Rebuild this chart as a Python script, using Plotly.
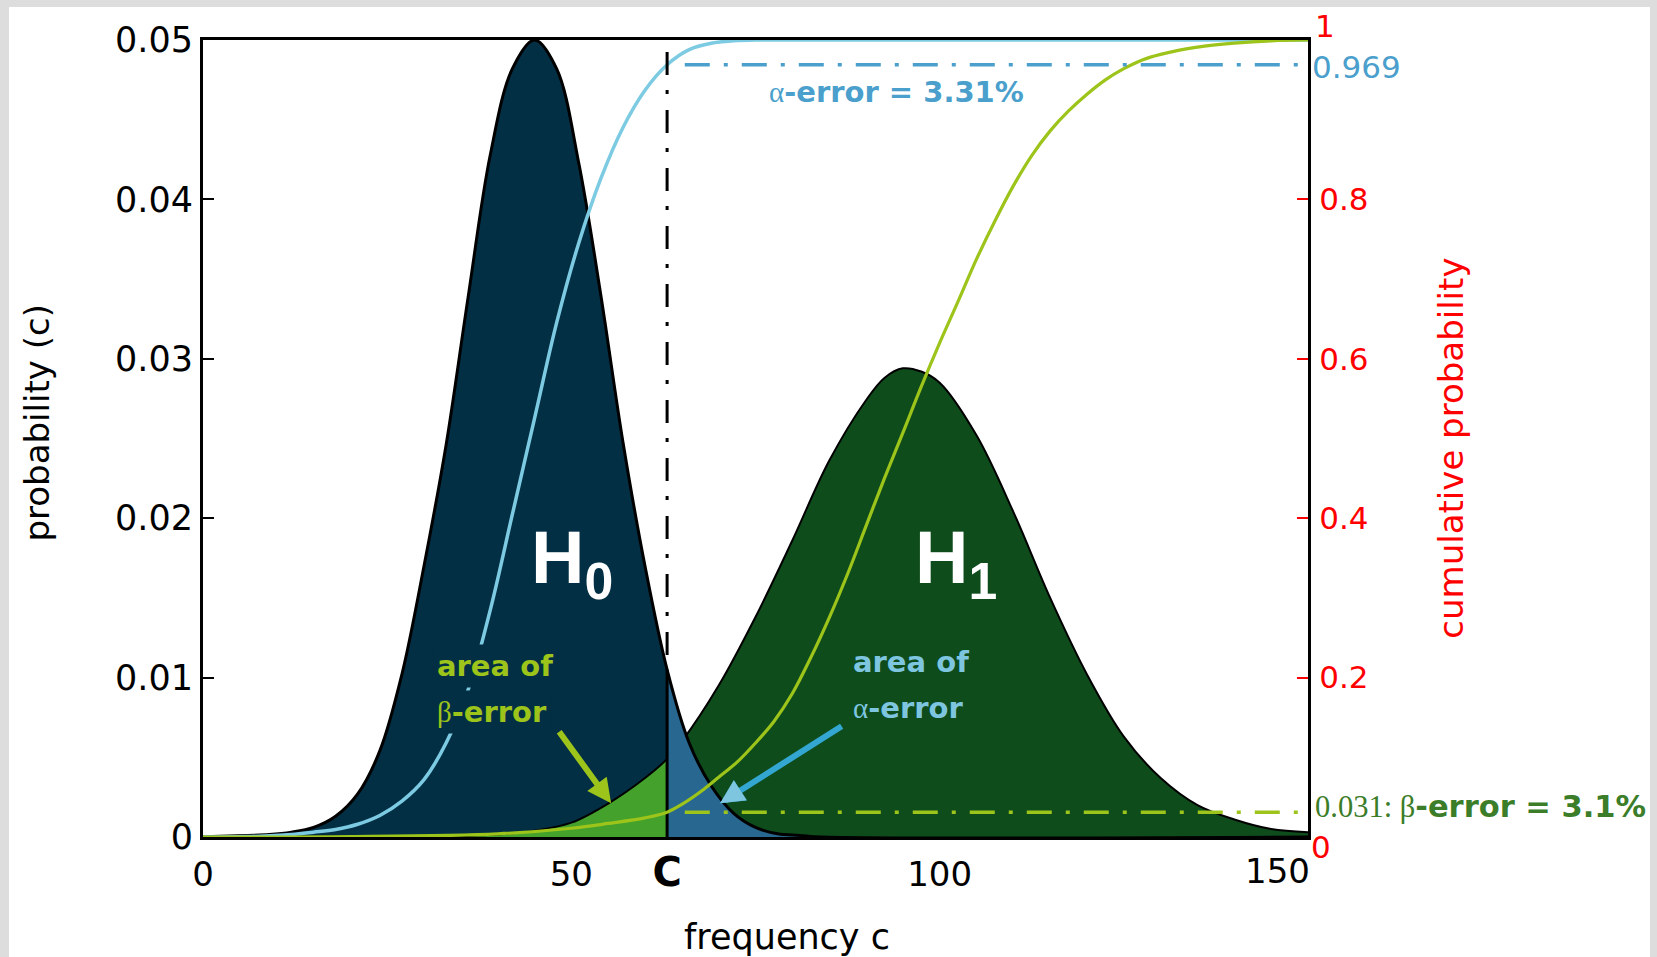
import plotly.graph_objects as go

# ---------------- data ----------------
C = 63.0                      # critical value
ALPHA_LEVEL = 0.969           # cumulative H0 at C
BETA_LEVEL = 0.031            # cumulative H1 at C

H0_X = [0, 6, 9, 12, 15, 18, 21, 24, 27, 30, 33, 36, 39, 42, 45, 48, 51, 54, 57, 60, 63, 66,
        69, 72, 75, 78, 81, 84, 150]
H0_Y = [0.00002, 0.0001, 0.00015, 0.0003, 0.0006, 0.0013, 0.0027, 0.0054, 0.0102, 0.0170,
        0.0246, 0.0339, 0.0428, 0.0482, 0.0500, 0.0482, 0.0423, 0.0340, 0.0248, 0.0170, 0.0105,
        0.0059, 0.0032, 0.0015, 0.0006, 0.0002, 0.0001, 0.0, 0.0]

H1_X = [0, 30, 35, 40, 45, 50, 55, 60, 63, 65, 70, 75, 80, 85, 90, 92.5, 95, 97.5, 100, 105,
        110, 115, 120, 125, 130, 135, 140, 145, 150]
H1_Y = [0.0, 0.00003, 0.00006, 0.00015, 0.0004, 0.0009, 0.0021, 0.0037, 0.0049, 0.0060, 0.0095,
        0.0138, 0.0186, 0.0236, 0.0274, 0.0288, 0.0294, 0.0292, 0.0285, 0.0252, 0.0204, 0.0150,
        0.0102, 0.0063, 0.0037, 0.0020, 0.0011, 0.0005, 0.0003]

CUM0_X = [0, 6, 12, 15, 18, 21, 24, 27, 30, 33, 36, 39, 42, 45, 48, 51, 54, 57, 60, 63, 66, 69,
          72, 75, 81, 150]
CUM0_Y = [0, 0.0005, 0.003, 0.006, 0.0095, 0.016, 0.027, 0.045, 0.072, 0.118, 0.185, 0.285,
          0.405, 0.525, 0.645, 0.745, 0.826, 0.890, 0.937, 0.969, 0.988, 0.996, 0.999, 1.0, 1.0,
          1.0]

CUM1_X = [0, 20, 40, 50, 55, 60, 63, 65, 68, 70, 72.5, 75, 77.5, 80, 82.5, 85, 87.5, 90, 92.5,
          95, 97.5, 100, 102.5, 105, 107.5, 110, 112.5, 115, 117.5, 120, 122.5, 125, 127.5, 130,
          135, 140, 145, 150]
CUM1_Y = [0, 0.0005, 0.0040, 0.0110, 0.0170, 0.0240, 0.031, 0.041, 0.060, 0.075, 0.094, 0.118,
          0.145, 0.180, 0.225, 0.275, 0.330, 0.390, 0.450, 0.507, 0.565, 0.620, 0.672, 0.725,
          0.773, 0.817, 0.855, 0.886, 0.911, 0.932, 0.950, 0.964, 0.975, 0.982, 0.991, 0.996,
          0.999, 1.0]

X_TICKS = [0, 50, C, 100]
X_TICKTEXT = ["0", "50", "<span style='font-size:40px'><b>C</b></span>", "100"]
Y_TICKS = [0, 0.01, 0.02, 0.03, 0.04, 0.05]
Y_TICKTEXT = ["0", "0.01", "0.02", "0.03", "0.04", "0.05"]
Y2_TICKS = [0.2, 0.4, 0.6, 0.8]
Y2_TICKTEXT = ["0.2", "0.4", "0.6", "0.8"]

# ---------------- styles ----------------
NAVY = "#032f45"
DKGREEN = "#0f4c1c"
BETA_FILL = "#44a12b"
ALPHA_FILL = "#28678f"
CUM0_COL = "#7dcbe2"
CUM1_COL = "#9dc41a"
ALPHA_TXT = "#4a9fcc"
ALPHA_AREA_TXT = "#7ec6e0"
BETA_TXT = "#9dc41a"
BETA_LBL = "#3b7d28"
SERIF = "font-family:'Liberation Serif'"
FONT = "DejaVu Sans"

beta_x = [x for x in H1_X if x <= C]
beta_y = [y for x, y in zip(H1_X, H1_Y) if x <= C]
alpha_x = [x for x in H0_X if x >= C]
alpha_y = [y for x, y in zip(H0_X, H0_Y) if x >= C]
h0_at_c = H0_Y[H0_X.index(C)]

fig = go.Figure()


def fill_trace(xs, ys, color):
    return go.Scatter(x=xs, y=ys, mode="lines", fill="tozeroy", fillcolor=color,
                      line=dict(width=0, color=color, shape="spline"), hoverinfo="skip")


fig.add_trace(fill_trace(H0_X, H0_Y, NAVY))
fig.add_trace(fill_trace(H1_X, H1_Y, DKGREEN))
fig.add_trace(fill_trace(beta_x, beta_y, BETA_FILL))
fig.add_trace(go.Scatter(x=H1_X, y=H1_Y, mode="lines",
                         line=dict(color="black", width=2, shape="spline")))
fig.add_trace(fill_trace(alpha_x, alpha_y, ALPHA_FILL))
fig.add_trace(go.Scatter(x=H0_X, y=H0_Y, mode="lines",
                         line=dict(color="black", width=3, shape="spline")))
fig.add_trace(go.Scatter(x=[C, C], y=[0, h0_at_c], mode="lines",
                         line=dict(color="black", width=3)))

# overlay subplot (cumulative probability)
fig.add_trace(go.Scatter(x=CUM0_X, y=CUM0_Y, xaxis="x2", yaxis="y2", mode="lines",
                         line=dict(color=CUM0_COL, width=3.5, shape="spline")))
fig.add_trace(go.Scatter(x=CUM1_X, y=CUM1_Y, xaxis="x2", yaxis="y2", mode="lines",
                         line=dict(color=CUM1_COL, width=3.2, shape="spline")))
fig.add_trace(go.Scatter(x=[C + 2.4, 150], y=[ALPHA_LEVEL, ALPHA_LEVEL], xaxis="x2", yaxis="y2",
                         mode="lines", line=dict(color=ALPHA_TXT, width=3.5,
                                                 dash="25px,14px,4px,14px")))
fig.add_trace(go.Scatter(x=[C + 2.4, 150], y=[BETA_LEVEL, BETA_LEVEL], xaxis="x2", yaxis="y2",
                         mode="lines", line=dict(color=CUM1_COL, width=3.5,
                                                 dash="25px,14px,4px,14px")))
fig.add_trace(go.Scatter(x=[C, C], y=[0.985, 0.215], xaxis="x2", yaxis="y2", mode="lines",
                         line=dict(color="black", width=3, dash="23px,15px,4px,16px")))

annotations = [
    # hypothesis labels
    dict(x=50.1, y=0.3438, xref="x", yref="y2", text="<b>H<sub>0</sub></b>", showarrow=False,
         font=dict(family="Liberation Sans", size=74, color="white")),
    dict(x=102.2, y=0.3438, xref="x", yref="y2", text="<b>H<sub>1</sub></b>", showarrow=False,
         font=dict(family="Liberation Sans", size=74, color="white")),
    # alpha error text at top
    dict(x=76.6, y=0.935, xref="x", yref="y2", xanchor="left", showarrow=False,
         text=f"<span style=\"{SERIF}\">α</span><b>-error = 3.31%</b>",
         font=dict(family=FONT, size=29, color=ALPHA_TXT)),
    # area of beta-error
    dict(x=31.1, y=0.2146, xref="x", yref="y2", xanchor="left", showarrow=False,
         text="<b>area of</b>", bgcolor=NAVY, borderpad=4,
         font=dict(family=FONT, size=29, color=BETA_TXT)),
    dict(x=31.1, y=0.157, xref="x", yref="y2", xanchor="left", showarrow=False,
         text=f"<span style=\"{SERIF}\">β</span><b>-error</b>", bgcolor=NAVY, borderpad=4,
         font=dict(family=FONT, size=29, color=BETA_TXT)),
    # area of alpha-error
    dict(x=88.0, y=0.2196, xref="x", yref="y2", xanchor="left", showarrow=False,
         text="<b>area of</b>", font=dict(family=FONT, size=29, color=ALPHA_AREA_TXT)),
    dict(x=88.0, y=0.1619, xref="x", yref="y2", xanchor="left", showarrow=False,
         text=f"<span style=\"{SERIF}\">α</span><b>-error</b>",
         font=dict(family=FONT, size=29, color=ALPHA_AREA_TXT)),
    # arrows
    dict(x=55.4, y=0.0423, xref="x", yref="y2", ax=-53, ay=-73, text="", showarrow=True,
         arrowhead=2, arrowsize=0.8, arrowwidth=6, arrowcolor=BETA_TXT, standoff=0, startstandoff=0),
    dict(x=70.2, y=0.0423, xref="x", yref="y2", ax=123, ay=-78, text="", showarrow=True,
         arrowhead=2, arrowsize=0.8, arrowwidth=6, arrowcolor="#33a7d1", standoff=0, startstandoff=0),
    dict(x=70.2, y=0.0423, xref="x", yref="y2", ax=17, ay=-11, text="", showarrow=True,
         arrowhead=2, arrowsize=0.8, arrowwidth=6, arrowcolor=ALPHA_AREA_TXT, standoff=0, startstandoff=0),
    # right axis extra labels
    dict(x=150, y=1, xref="x", yref="y2", xanchor="left", xshift=5, yshift=14, showarrow=False,
         text="1", font=dict(family=FONT, size=31, color="red")),
    dict(x=150, y=0, xref="x", yref="y2", xanchor="left", xshift=1, yshift=-10, showarrow=False,
         text="0", font=dict(family=FONT, size=31, color="red")),
    dict(x=150, y=ALPHA_LEVEL, xref="x", yref="y2", xanchor="left", xshift=2, yshift=-2,
         showarrow=False, text="0.969", font=dict(family=FONT, size=31, color=ALPHA_TXT)),
    dict(x=150, y=BETA_LEVEL, xref="x", yref="y2", xanchor="left", xshift=5, yshift=6,
         showarrow=False,
         text=f"<span style=\"{SERIF}\">0.031: β</span><b>-error = 3.1%</b>",
         font=dict(family=FONT, size=30.5, color=BETA_LBL)),
    # x tick label 150 (right-aligned at the axis end)
    dict(x=150, y=0, xref="x", yref="paper", xanchor="right", yanchor="top", yshift=-12, xshift=4,
         showarrow=False, text="150", font=dict(family=FONT, size=34, color="black")),
    # axis titles
    dict(x=-0.170, y=0.519, xref="paper", yref="paper", textangle=-90, showarrow=False,
         text="probability (c)", font=dict(family=FONT, size=34, color="black")),
    dict(x=1.149, y=0.488, xref="paper", yref="paper", textangle=-90, showarrow=False,
         text="cumulative probability", font=dict(family=FONT, size=34, color="red")),
    dict(x=0.5285, y=-0.153, xref="paper", yref="paper", showarrow=False,
         text="frequency c", font=dict(family=FONT, size=35, color="black")),
]

fig.update_layout(
    width=1657, height=957,
    margin=dict(l=203, r=349, t=40, b=120, pad=0),
    paper_bgcolor="#dddddd", plot_bgcolor="white",
    showlegend=False,
    font=dict(family=FONT, size=32, color="black"),
    shapes=[dict(type="rect", xref="paper", yref="paper", x0=-0.1756, x1=1.3095,
                 y0=-0.1506, y1=1.0414, fillcolor="white", line_width=0, layer="below")],
    xaxis=dict(range=[0, 150], tickvals=X_TICKS, ticktext=X_TICKTEXT, ticks="",
               showline=True, linecolor="black", linewidth=3, showgrid=False, zeroline=False,
               tickfont=dict(family=FONT, size=34, color="black"), ticklabelstandoff=5),
    xaxis2=dict(range=[0, 150], overlaying="x", side="top", showline=True, linecolor="black",
                linewidth=3, showticklabels=False, ticks="", showgrid=False, zeroline=False,
                layer="below traces"),
    yaxis=dict(range=[0, 0.05], tickvals=Y_TICKS, ticktext=Y_TICKTEXT, ticks="inside",
               ticklen=11, tickwidth=2, tickcolor="black", showline=True, linecolor="black",
               linewidth=3, showgrid=False, zeroline=False,
               tickfont=dict(family=FONT, size=35, color="black"), ticklabelstandoff=0),
    yaxis2=dict(range=[0, 1], overlaying="y", side="right", tickvals=Y2_TICKS,
                ticktext=Y2_TICKTEXT, ticks="inside", ticklen=11, tickwidth=2, tickcolor="red",
                showline=True, linecolor="black", linewidth=3, showgrid=False, zeroline=False,
                tickfont=dict(family=FONT, size=31, color="red"), ticklabelstandoff=2),
    annotations=annotations,
)

fig.write_html("out.html")
